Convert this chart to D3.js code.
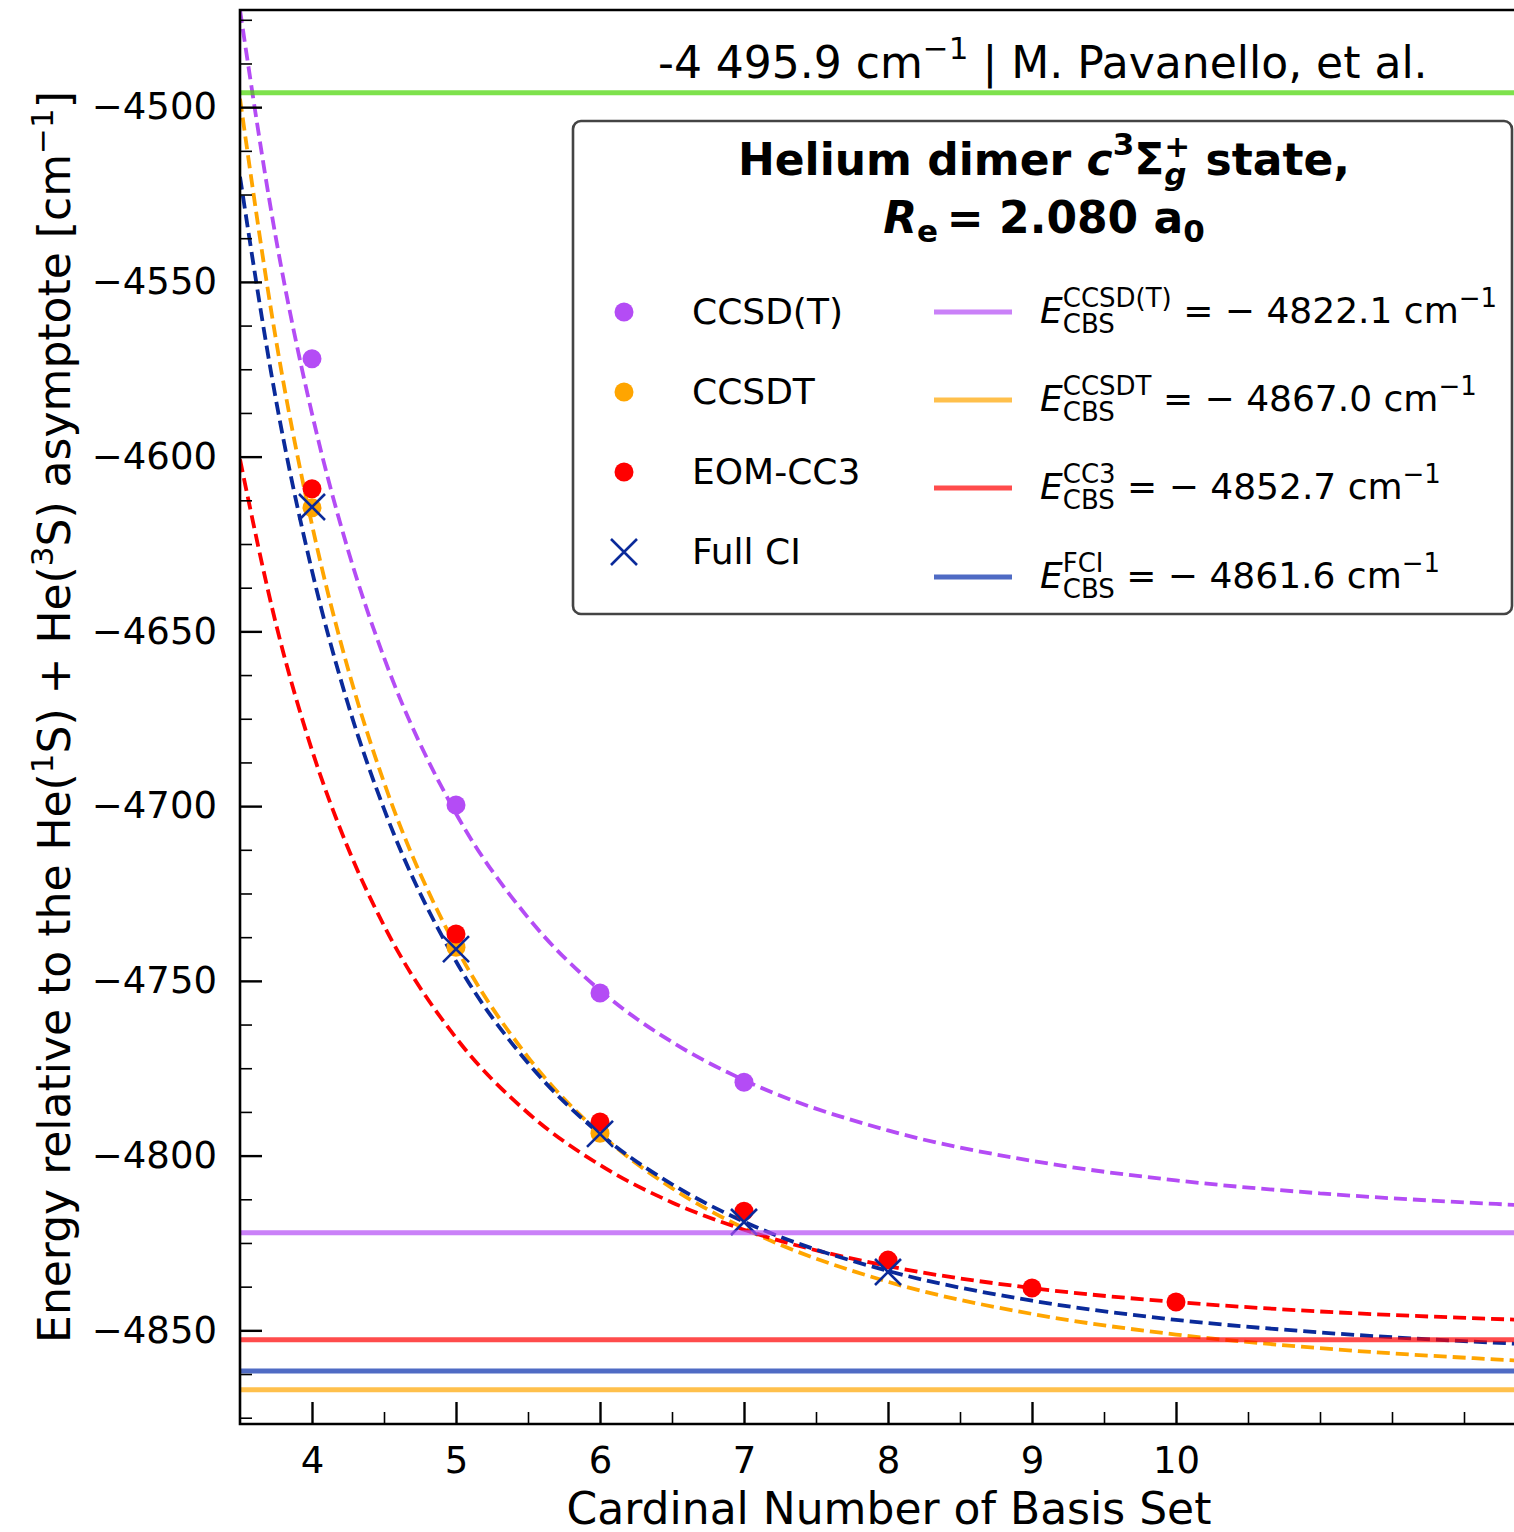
<!DOCTYPE html>
<html lang="en">
<head>
	<meta charset="UTF-8"/>
	<title>Helium dimer c3Sigma_g+ state, CBS extrapolation</title>
	<script src="https://d3js.org/d3.v7.min.js"></script>
	<style>
		body{margin:0;background:#fff;}
		svg{display:block;font-family:"DejaVu Sans",sans-serif;}
	</style>
</head>
<body>
<script>

	// computed points (cardinal number X starts at 4)
	var cardinal = [4,5,6,7,8,9,10];
	var ccsdT  = [-4572.0,-4699.7,-4753.5,-4779.0];
	var ccsdt  = [-4614.6,-4740.4,-4793.6];
	var cc3    = [-4609.2,-4736.6,-4790.4,-4815.9,-4829.9,-4837.9,-4841.9];
	var fullCI = [-4614.4,-4740.9,-4793.8,-4819.0,-4833.3];

	// dashed extrapolation curves
	var fitX      = [3.5,3.75,4,4.25,4.5,5,5.5,6,6.5,7,8,9,10,11,12.4];
	var fitCcsdT  = [-4472.2,-4537.6,-4587.7,-4626.7,-4657.5,-4702.1,-4731.9,-4752.7,-4767.5,-4778.4,-4792.8,-4801.5,-4807.1,-4810.8,-4814.2];
	var fitCcsdt  = [-4497.6,-4566.6,-4619.5,-4660.7,-4693.2,-4740.3,-4771.8,-4793.7,-4809.3,-4820.8,-4836.1,-4845.3,-4851.2,-4855.1,-4858.7];
	var fitCc3    = [-4600.8,-4647.9,-4684.0,-4712.0,-4734.2,-4766.3,-4787.8,-4802.7,-4813.4,-4821.2,-4831.6,-4837.9,-4841.9,-4844.6,-4847.0];
	var fitFullCI = [-4519.9,-4583.8,-4632.7,-4670.8,-4700.8,-4744.4,-4773.5,-4793.8,-4808.2,-4818.9,-4833.0,-4841.5,-4847.0,-4850.6,-4853.9];

	// CBS limits and reference value
	var cbsNames  = ["CCSD(T)","CCSDT","CC3","FCI"];
	var cbsValues = [-4822.1,-4867.0,-4852.7,-4861.6];
	var refValue  = -4495.9;

	var seriesNames = ["CCSD(T)","CCSDT","EOM-CC3","Full CI"];
	var xTicks = [4,5,6,7,8,9,10];
	var yTicks = [-4850,-4800,-4750,-4700,-4650,-4600,-4550,-4500];

	var w = 1514;
	var h = 1532;
	var plotL = 240, plotT = 10, plotB = 1424;

	var colPurple = "#b44cf5", colOrange = "#ffa500", colRed = "#ff0000", colNavy = "#0a2a9a";
	var lineCols = ["#b44cf5","#ffa500","#ff0000","#042cab"];

	var xScale = d3.scaleLinear().domain([3.5,12.5]).range([plotL,plotL+9*144]);
	var yScale = d3.scaleLinear().domain([-4876.8,-4472.2]).range([plotB,plotT]);

	var svg = d3.select("body").append("svg")
		.attr("width",w)
		.attr("height",h);

	svg.append("clipPath").attr("id","plotclip")
		.append("rect")
		.attr("x",plotL).attr("y",plotT)
		.attr("width",w-plotL).attr("height",plotB-plotT);

	var plot = svg.append("g").attr("clip-path","url(#plotclip)");

	var line = d3.line()
		.x(function(d){ return xScale(d[0]); })
		.y(function(d){ return yScale(d[1]); })
		.curve(d3.curveMonotoneX);

	var fits = [[fitCcsdT,colPurple],[fitCcsdt,colOrange],[fitCc3,colRed],[fitFullCI,colNavy]];
	fits.forEach(function(f){
		plot.append("path")
			.datum(fitX.map(function(x,i){ return [x,f[0][i]]; }))
			.attr("d",line)
			.attr("fill","none")
			.attr("stroke",f[1])
			.attr("stroke-width",3.8)
			.attr("stroke-dasharray","13,6");
	});

	function dots(vals,col){
		plot.selectAll(null)
			.data(vals)
			.enter()
			.append("circle")
			.attr("cx",function(d,i){ return xScale(cardinal[i]); })
			.attr("cy",function(d){ return yScale(d); })
			.attr("r",9.5)
			.attr("fill",col);
	}
	dots(ccsdT,colPurple);
	dots(ccsdt,colOrange);
	dots(cc3,colRed);

	var xm = 13;
	plot.selectAll(null)
		.data(fullCI)
		.enter()
		.append("path")
		.attr("d",function(d,i){
			var cx = xScale(cardinal[i]), cy = yScale(d);
			return "M"+(cx-xm)+","+(cy-xm)+"L"+(cx+xm)+","+(cy+xm)+"M"+(cx-xm)+","+(cy+xm)+"L"+(cx+xm)+","+(cy-xm);
		})
		.attr("stroke",colNavy)
		.attr("stroke-width",2.6)
		.attr("fill","none");

	// CBS limits
	plot.selectAll(null)
		.data(cbsValues)
		.enter()
		.append("line")
		.attr("x1",plotL).attr("x2",w)
		.attr("y1",function(d){ return yScale(d); })
		.attr("y2",function(d){ return yScale(d); })
		.attr("stroke",function(d,i){ return lineCols[i]; })
		.attr("stroke-opacity",0.7)
		.attr("stroke-width",5);

	plot.append("line")
		.attr("x1",plotL).attr("x2",w)
		.attr("y1",yScale(refValue)).attr("y2",yScale(refValue))
		.attr("stroke","#47d600")
		.attr("stroke-opacity",0.7)
		.attr("stroke-width",5);

	// axes, ticks pointing inwards
	var xAxis = d3.axisBottom(xScale).tickValues(xTicks).tickSize(-22).tickSizeOuter(0).tickPadding(23).tickFormat(d3.format("d"));
	var xMinor = d3.axisBottom(xScale)
		.tickValues(d3.range(4.5,12.5,0.5).filter(function(v){ return xTicks.indexOf(v) < 0; }))
		.tickSize(-12).tickSizeOuter(0).tickFormat("");
	var yAxis = d3.axisLeft(yScale).tickValues(yTicks).tickSize(-22).tickSizeOuter(0).tickPadding(23)
		.tickFormat(function(d){ return "\u2212"+Math.abs(d); });
	var yMinor = d3.axisLeft(yScale)
		.tickValues(d3.range(-4875,-4470,12.5).filter(function(v){ return yTicks.indexOf(v) < 0; }))
		.tickSize(-12).tickSizeOuter(0).tickFormat("");

	function styleAxis(g,sw){
		g.select(".domain").remove();
		g.selectAll("line").attr("stroke","#000").attr("stroke-width",sw);
		g.selectAll("text").style("font-size","37px").style("font-family","'DejaVu Sans',sans-serif").attr("fill","#000");
	}

	svg.append("g").attr("transform","translate(0,"+plotB+")").call(xMinor).call(styleAxis,1.6);
	svg.append("g").attr("transform","translate(0,"+plotB+")").call(xAxis).call(styleAxis,2.4);
	svg.append("g").attr("transform","translate("+plotL+",0)").call(yMinor).call(styleAxis,1.6);
	svg.append("g").attr("transform","translate("+plotL+",0)").call(yAxis).call(styleAxis,2.4);

	// spines
	svg.append("path")
		.attr("d","M"+w+","+plotT+"H"+plotL+"V"+plotB+"H"+w)
		.attr("fill","none")
		.attr("stroke","#000")
		.attr("stroke-width",2.6);

	// text pieces laid out one after another (for super/subscripts)
	function addRich(g,parts,x,y){
		var cx = x, hold = 0;
		parts.forEach(function(p){
			var t = g.append("text")
				.attr("x",cx)
				.attr("y",y+(p.dy||0))
				.attr("xml:space","preserve")
				.style("white-space","pre")
				.style("font-size",p.size+"px")
				.style("font-weight",p.bold?"bold":"normal")
				.style("font-style",p.italic?"italic":"normal")
				.text(p.t);
			var len = t.node().getComputedTextLength();
			if(p.hold){ hold = Math.max(hold,len); }
			else { cx += Math.max(len,hold); hold = 0; }
		});
		return cx-x;
	}

	// reference text
	addRich(svg.append("g"),[
		{t:"-4 495.9 cm",size:44},
		{t:"\u22121",size:31,dy:-19},
		{t:" | M. Pavanello, et al.",size:44}
	],658,78);

	// legend
	var legend = svg.append("g");
	legend.append("rect")
		.attr("x",573).attr("y",121)
		.attr("width",939).attr("height",493)
		.attr("rx",8)
		.attr("fill","#fff")
		.attr("stroke","#444")
		.attr("stroke-width",2.6);

	var t1 = legend.append("g");
	var w1 = addRich(t1,[
		{t:"Helium dimer ",size:44,bold:true},
		{t:"c",size:44,bold:true,italic:true},
		{t:"3",size:31,bold:true,dy:-20},
		{t:"\u03a3",size:44,bold:true},
		{t:"+",size:31,bold:true,dy:-18,hold:true},
		{t:"g",size:31,bold:true,italic:true,dy:10},
		{t:" state,",size:44,bold:true}
	],0,175);
	t1.attr("transform","translate("+(1044-w1/2)+",0)");

	var t2 = legend.append("g");
	var w2 = addRich(t2,[
		{t:"R",size:44,bold:true,italic:true},
		{t:"e",size:31,bold:true,dy:9},
		{t:"\u2009= 2.080 a",size:44,bold:true},
		{t:"0",size:31,bold:true,dy:9}
	],0,233);
	t2.attr("transform","translate("+(1044-w2/2)+",0)");

	var rowY = [312,392,472,552];
	var markCols = [colPurple,colOrange,colRed];
	markCols.forEach(function(c,i){
		legend.append("circle").attr("cx",624).attr("cy",rowY[i]).attr("r",9.5).attr("fill",c);
	});
	legend.append("path")
		.attr("d","M"+(624-xm)+","+(rowY[3]-xm)+"L"+(624+xm)+","+(rowY[3]+xm)+"M"+(624-xm)+","+(rowY[3]+xm)+"L"+(624+xm)+","+(rowY[3]-xm))
		.attr("stroke",colNavy).attr("stroke-width",2.6);

	legend.selectAll(null)
		.data(seriesNames)
		.enter()
		.append("text")
		.attr("x",692)
		.attr("y",function(d,i){ return rowY[i]+12; })
		.style("font-size","36px")
		.text(function(d){ return d; });

	var lineY = [312,400,488,577];
	cbsNames.forEach(function(n,i){
		legend.append("line")
			.attr("x1",934).attr("x2",1012)
			.attr("y1",lineY[i]).attr("y2",lineY[i])
			.attr("stroke",lineCols[i])
			.attr("stroke-opacity",0.7)
			.attr("stroke-width",5);
		addRich(legend.append("g"),[
			{t:"E",size:36,italic:true},
			{t:n,size:26,dy:-16,hold:true},
			{t:"CBS",size:26,dy:10},
			{t:" = \u2212 "+Math.abs(cbsValues[i]).toFixed(1)+" cm",size:36},
			{t:"\u22121",size:26,dy:-16}
		],1040,lineY[i]+11);
	});

	// axis labels
	svg.append("text")
		.attr("x",889)
		.attr("y",1524)
		.style("text-anchor","middle")
		.style("font-size","44px")
		.text("Cardinal Number of Basis Set");

	var yl = svg.append("text")
		.attr("transform","translate(70,717) rotate(-90)")
		.style("text-anchor","middle")
		.style("font-size","44px");
	yl.append("tspan").text("Energy relative to the He(");
	yl.append("tspan").attr("dy",-17).style("font-size","31px").text("1");
	yl.append("tspan").attr("dy",17).text("S) + He(");
	yl.append("tspan").attr("dy",-17).style("font-size","31px").text("3");
	yl.append("tspan").attr("dy",17).text("S) asymptote [cm");
	yl.append("tspan").attr("dy",-17).style("font-size","31px").text("\u22121");
	yl.append("tspan").attr("dy",17).text("]");

</script>
</body>
</html>
